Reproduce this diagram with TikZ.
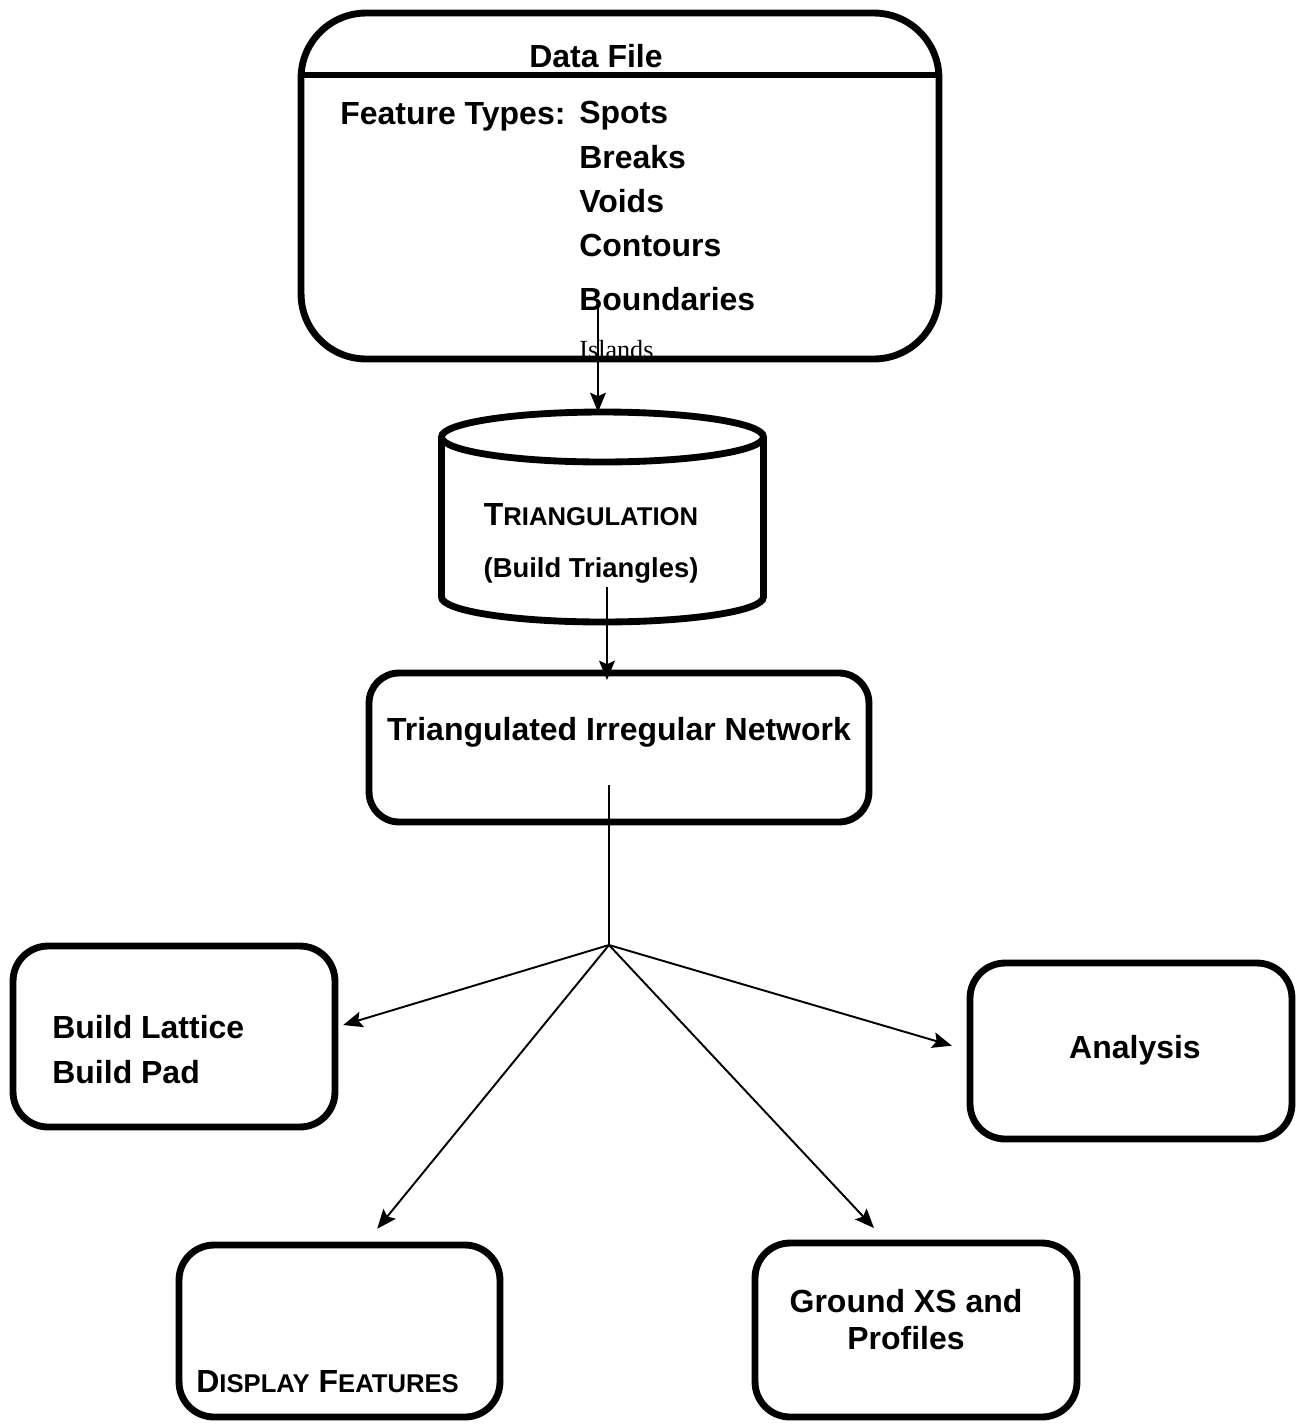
\documentclass[tikz,border=0pt]{standalone}
\usepackage{fontspec}
\setmainfont{Liberation Sans}
\newfontfamily\islandsfont{Liberation Serif}
\usetikzlibrary{arrows.meta}

% capital letter big, the rest smaller (small caps look)
\newcommand{\bigsmall}[2]{{\fontsize{18.2pt}{20pt}\selectfont #1}{\fontsize{14.6pt}{16pt}\selectfont #2}}

\tikzset{
  box/.style={draw, line width=3.9pt, rounded corners=0.7cm, inner sep=0pt, outer sep=0pt},
  lbl/.style={font=\bfseries\fontsize{18.2pt}{22pt}\selectfont, inner sep=0pt},
  arr/.style={line width=1.1pt, -{Stealth[length=11pt,width=9pt,inset=2pt]}},
}

\begin{document}
\begin{tikzpicture}[x=0.02cm,y=-0.02cm]
\useasboundingbox (0,0) rectangle (1304,1424);
% Data file
\node (df) [box, rounded corners=1.3cm, minimum width=12.76cm, minimum height=6.92cm] at (620,186) {};
\draw [line width=3.9pt] (301,75) -- (939,75);
\node (dftitle) [lbl, anchor=base] at (596,67) {Data File};
\node (ftypes) [lbl, anchor=base west] at (340,124) {Feature Types:};
\node (spots) [lbl, anchor=base west] at (579,123) {Spots};
\node (breaks) [lbl, anchor=base west] at (579,168) {Breaks};
\node (voids) [lbl, anchor=base west] at (579,212) {Voids};
\node (contours) [lbl, anchor=base west] at (579,256) {Contours};
\node (bounds) [lbl, anchor=base west] at (579,310) {Boundaries};
\node (islands) [anchor=base west, inner sep=0pt, font=\islandsfont\fontsize{14.9pt}{17pt}\selectfont] at (579,358) {Islands};
%
% Triangulation
\draw [line width=3.9pt] (441.5,437) -- (441.5,597) arc [start angle=180, end angle=360, x radius=3.22cm, y radius=0.5cm] -- (763.5,437);
\draw [line width=3.9pt] (602.5,437) ellipse [x radius=3.22cm, y radius=0.5cm];
\node (tri) [minimum width=6.44cm, minimum height=4.2cm, inner sep=0pt, outer sep=0pt] at (602.5,517) {};
\node (tritxt) [lbl, anchor=base] at (591,525) {\bigsmall{T}{RIANGULATION}};
\node (tribuild) [lbl, anchor=base, font=\bfseries\fontsize{15.6pt}{18pt}\selectfont] at (591,577) {(Build Triangles)};
\coordinate (dfout) at (598,300);
\draw [arr] (dfout) -- (dfout |- tri.north);
%
% TIN
\node (tin) [box, rounded corners=0.6cm, minimum width=10cm, minimum height=2.98cm] at (619,747.5) {};
\node (tintxt) [lbl, anchor=base] at (619,740) {Triangulated Irregular Network};
\coordinate (triout) at (607,587);
\draw [arr, shorten >=-0.14cm] (triout) -- (triout |- tin.north);
\coordinate (tinout) at (609,785);
\coordinate (hub) at (609,945);
\draw [line width=1.1pt] (tinout) -- (hub);
%
% Results
\node (lat) [box, minimum width=6.44cm, minimum height=3.62cm] at (174,1036.5) {};
\node (ana) [box, minimum width=6.44cm, minimum height=3.52cm] at (1131,1051) {};
\node (disp) [box, minimum width=6.42cm, minimum height=3.44cm] at (339.5,1331) {};
\node (grd) [box, minimum width=6.44cm, minimum height=3.48cm] at (916,1330) {};
\node (lattxt) [lbl, anchor=base west] at (52,1038) {Build Lattice};
\node (padtxt) [lbl, anchor=base west] at (52,1083) {Build Pad};
\node (anatxt) [lbl, anchor=base] at (1135,1058) {Analysis};
\node (disptxt) [lbl, anchor=base west] at (196,1392) {\bigsmall{D}{ISPLAY} \bigsmall{F}{EATURES}};
\node (grdtxt) [lbl, anchor=base] at (906,1312) {Ground XS and};
\node (proftxt) [lbl, anchor=base] at (906,1349) {Profiles};
%
\draw [arr, shorten >=0.17cm] (hub) -- ([yshift=0.18cm]lat.east);
\draw [arr, shorten >=0.38cm] (hub) -- (ana.west);
\draw [arr, shorten >=0.42cm] (hub) -- ([xshift=0.49cm]disp.north);
\draw [arr, shorten >=0.41cm] (hub) -- ([xshift=-0.56cm]grd.north);
%
\end{tikzpicture}
\end{document}
